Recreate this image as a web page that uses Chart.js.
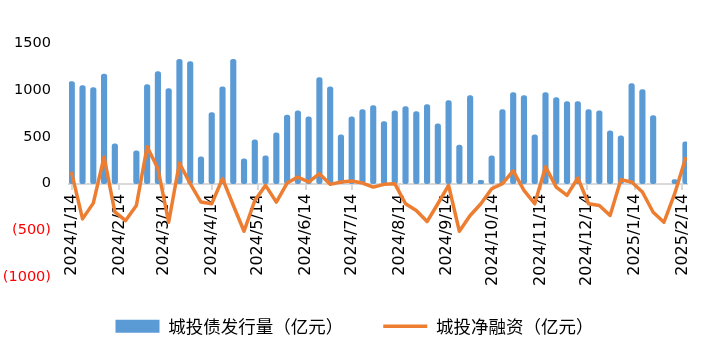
<!DOCTYPE html>
<html><head><meta charset="utf-8">
<script src="https://cdn.jsdelivr.net/npm/chart.js@4/dist/chart.umd.min.js"></script>
<style>html,body{margin:0;padding:0;background:#fff}#wrap{width:709px;height:355px}</style>
</head><body><div id="wrap"><canvas id="c" width="709" height="355"></canvas></div>
<script>
const weeks = ["2024/1/14","2024/1/21","2024/1/28","2024/2/4","2024/2/11","2024/2/18","2024/2/25","2024/3/3","2024/3/10","2024/3/17","2024/3/24","2024/3/31","2024/4/7","2024/4/14","2024/4/21","2024/4/28","2024/5/5","2024/5/12","2024/5/19","2024/5/26","2024/6/2","2024/6/9","2024/6/16","2024/6/23","2024/6/30","2024/7/7","2024/7/14","2024/7/21","2024/7/28","2024/8/4","2024/8/11","2024/8/18","2024/8/25","2024/9/1","2024/9/8","2024/9/15","2024/9/22","2024/9/29","2024/10/6","2024/10/13","2024/10/20","2024/10/27","2024/11/3","2024/11/10","2024/11/17","2024/11/24","2024/12/1","2024/12/8","2024/12/15","2024/12/22","2024/12/29","2025/1/5","2025/1/12","2025/1/19","2025/1/26","2025/2/2","2025/2/9","2025/2/16"];
const issuance = [1089,1046,1025,1168,425,null,350,1057,1196,1014,1325,1303,286,757,1032,1325,264,468,296,543,732,778,714,1132,1032,521,714,789,832,661,778,821,768,843,639,886,411,939,35,296,789,971,939,521,971,918,875,875,789,778,564,511,1068,1003,725,null,45,446];
const netFinancing = [110,-375,-207,286,-300,-393,-232,393,161,-411,221,0,-196,-214,54,-230,-507,-179,-18,-196,7,71,18,107,-7,18,28,7,-36,-7,0,-214,-286,-404,-214,-18,-507,-339,-214,-54,0,136,-71,-214,179,-36,-125,61,-214,-232,-339,43,18,-89,-304,-411,-107,268];
const monthTicks = ["2024/1/14","2024/2/14","2024/3/14","2024/4/14","2024/5/14","2024/6/14","2024/7/14","2024/8/14","2024/9/14","2024/10/14","2024/11/14","2024/12/14","2025/1/14","2025/2/14"];
const seriesNames = ["城投债发行量（亿元）","城投净融资（亿元）"];

function dayOf(s){const p=s.split('/').map(Number);return Date.UTC(p[0],p[1]-1,p[2])/864e5;}
const base = dayOf(weeks[0]);
const xs = weeks.map(w => dayOf(w) - base);
const monthDays = monthTicks.map(m => dayOf(m) - base);

new Chart(document.getElementById('c'), {
  type: 'bar',
  data: {
    datasets: [
      {
        type: 'bar',
        label: seriesNames[0],
        data: xs.map((x,i) => ({x: x, y: issuance[i]})),
        backgroundColor: '#5B9BD5',
        borderWidth: 0,
        borderRadius: 2.5,
        borderSkipped: false,
        barThickness: 5.5,
        pointStyle: 'rect',
        order: 1
      },
      {
        type: 'line',
        label: seriesNames[1],
        data: xs.map((x,i) => ({x: x, y: netFinancing[i]})),
        borderColor: '#ED7D31',
        backgroundColor: '#ED7D31',
        borderWidth: 3.5,
        pointRadius: 0,
        pointStyle: 'line',
        tension: 0,
        borderJoinStyle: 'round',
        borderCapStyle: 'round',
        order: 0
      }
    ]
  },
  options: {
    responsive: false,
    animation: false,
    layout: {padding: {left: 0, top: 43, right: 0, bottom: 10}},
    plugins: {
      tooltip: {enabled: false},
      legend: {
        position: 'bottom',
        maxHeight: 78,
        labels: {
          usePointStyle: true,
          pointStyleWidth: 44,
          boxHeight: 13,
          padding: 40,
          color: '#000',
          font: {family: "'Noto Sans CJK SC', sans-serif", size: 17.5},
          sort: (a, b) => a.datasetIndex - b.datasetIndex
        }
      }
    },
    scales: {
      x: {
        type: 'linear',
        position: {y: 0},
        min: -1.8,
        max: 400,
        offset: false,
        grid: {display: true, drawOnChartArea: false, drawTicks: true, tickLength: 5, color: '#D9D9D9', lineWidth: 2, offset: false},
        border: {display: true, color: '#D9D9D9', width: 2},
        afterBuildTicks: s => { s.ticks = monthDays.map(v => ({value: v})); },
        ticks: {
          autoSkip: false,
          minRotation: 90,
          maxRotation: 90,
          padding: 5,
          color: '#000',
          font: {family: "'DejaVu Sans', sans-serif", size: 16},
          callback: (v, i) => monthTicks[i]
        }
      },
      y: {
        type: 'linear',
        position: 'left',
        min: -1000,
        max: 1500,
        grid: {display: false, drawTicks: false},
        border: {display: false},
        afterFit: s => { s.width = 69; },
        ticks: {
          stepSize: 500,
          padding: 18,
          font: {family: "'DejaVu Sans', sans-serif", size: 14.5},
          color: c => (c.tick && c.tick.value < 0) ? '#FF0000' : '#000',
          callback: v => v < 0 ? '(' + Math.abs(v) + ')' : String(v)
        }
      },
      yRightSpace: {
        type: 'linear',
        position: 'right',
        display: true,
        grid: {display: false, drawTicks: false},
        border: {display: false},
        ticks: {display: false},
        afterFit: s => { s.width = 22; }
      }
    }
  }
});
</script>
</body></html>
